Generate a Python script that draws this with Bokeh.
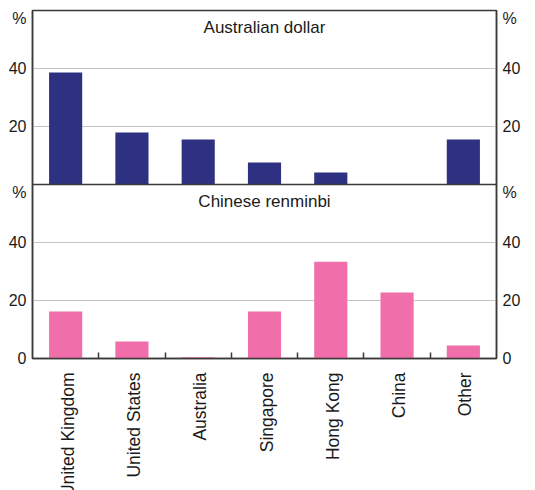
import math
from bokeh.plotting import figure
from bokeh.layouts import column
from bokeh.models import (FixedTicker, LinearAxis, Range1d, Span, Label)
from bokeh.core.properties import value
from bokeh.embed import file_html
from bokeh.resources import INLINE

# ---- data ----
categories = ["United Kingdom", "United States", "Australia", "Singapore",
              "Hong Kong", "China", "Other"]
aud_share = [38.6, 17.9, 15.5, 7.6, 4.1, 0.2, 15.5]
cny_share = [16.2, 5.9, 0.4, 16.2, 33.4, 22.8, 4.5]
panel_titles = ["Australian dollar", "Chinese renminbi"]
y_ticks = [0, 20, 40]
panel_max = 60
unit_label = "%"

# ---- style ----
NAVY = "#2E3182"
PINK = "#F06EAA"
TEXT = "#1a1a1a"
AXIS = "#3a3a3a"
GRID = "#c4c4c4"
FONT = "Liberation Sans"
TICK_FS = "16px"
TITLE_FS = "17px"
CAT_FS = "17.5px"

W = 535
LEFT, RIGHT = 32, 39
MAIN_TOP, FRAME_H, MAIN_BOTTOM = 10, 348, 9
MAIN_H = MAIN_TOP + FRAME_H + MAIN_BOTTOM
CAT_H = 490 - MAIN_H
PX_PER_UNIT = FRAME_H / (2 * panel_max)
UNIT_DROP = 7.5 / PX_PER_UNIT   # "%" sits just below each panel top

n = len(categories)
x_centers = [i + 0.5 for i in range(n)]
boundaries = list(range(1, n))
shared_x = Range1d(0, n)

# ---- main two-panel chart ----
p = figure(width=W, height=MAIN_H, x_range=shared_x,
           y_range=Range1d(0, 2 * panel_max),
           output_backend="svg", toolbar_location=None,
           min_border_left=LEFT, min_border_right=RIGHT,
           min_border_top=MAIN_TOP, min_border_bottom=MAIN_BOTTOM)
p.background_fill_color = "white"
p.border_fill_color = "white"
p.outline_line_color = AXIS
p.outline_line_width = 1.5

value_ticks = list(y_ticks) + [t + panel_max for t in y_ticks if t > 0]
unit_ticks = [panel_max - UNIT_DROP, 2 * panel_max - UNIT_DROP]
overrides = {t + panel_max: str(t) for t in y_ticks if t > 0}
for u in unit_ticks:
    overrides[u] = unit_label

def style_yaxis(ax):
    ax.ticker = FixedTicker(ticks=value_ticks + unit_ticks, minor_ticks=[])
    ax.major_label_overrides = overrides
    ax.major_tick_in = 0
    ax.major_tick_out = 0
    ax.minor_tick_in = 0
    ax.minor_tick_out = 0
    ax.axis_line_color = AXIS
    ax.axis_line_width = 1.5
    ax.major_label_text_font = FONT
    ax.major_label_text_font_size = TICK_FS
    ax.major_label_text_color = TEXT
    ax.major_label_standoff = 6

style_yaxis(p.yaxis[0])
right_axis = LinearAxis()
style_yaxis(right_axis)
p.add_layout(right_axis, "right")

p.ygrid.ticker = FixedTicker(ticks=[t for t in value_ticks if t not in (0, panel_max)])
p.ygrid.grid_line_color = GRID
p.ygrid.grid_line_width = 1
p.xgrid.visible = False

xa = p.xaxis[0]
xa.ticker = FixedTicker(ticks=[], minor_ticks=boundaries)
xa.major_tick_in = 0
xa.major_tick_out = 0
xa.minor_tick_in = 6
xa.minor_tick_out = 0
xa.minor_tick_line_color = AXIS
xa.minor_tick_line_width = 1.5
xa.axis_line_color = AXIS
xa.axis_line_width = 1.5
xa.major_label_text_font_size = "0px"
xa.major_label_standoff = 0

p.vbar(x=x_centers, width=0.5, bottom=0, top=cny_share,
       fill_color=PINK, line_color=None)
p.vbar(x=x_centers, width=0.5, bottom=panel_max,
       top=[v + panel_max for v in aud_share],
       fill_color=NAVY, line_color=None)

p.add_layout(Span(location=panel_max, dimension="width",
                  line_color=AXIS, line_width=1.5))

for title, top in zip(panel_titles, [2 * panel_max, panel_max]):
    p.add_layout(Label(x=n / 2, y=top, y_offset=-7, text=title,
                       text_align="center", text_baseline="top",
                       text_font=FONT, text_font_size=TITLE_FS, text_color=TEXT))

# ---- category label strip (rotated names, clipped at the bottom edge) ----
fc = figure(width=W, height=CAT_H, x_range=shared_x, y_range=Range1d(-CAT_H, 0),
            output_backend="svg", toolbar_location=None,
            x_axis_location=None, y_axis_location=None,
            min_border_left=LEFT, min_border_right=RIGHT,
            min_border_top=0, min_border_bottom=0)
fc.outline_line_color = None
fc.grid.visible = False
fc.background_fill_color = "white"
fc.border_fill_color = "white"
fc.text(x=x_centers, y=[-5] * n, text=categories, angle=math.pi / 2,
        text_align="right", text_baseline="middle", x_offset=2,
        text_font=value(FONT), text_font_size=CAT_FS, text_color=TEXT)

layout = column(p, fc, spacing=0)
open("out.html", "w").write(file_html(layout, INLINE))
